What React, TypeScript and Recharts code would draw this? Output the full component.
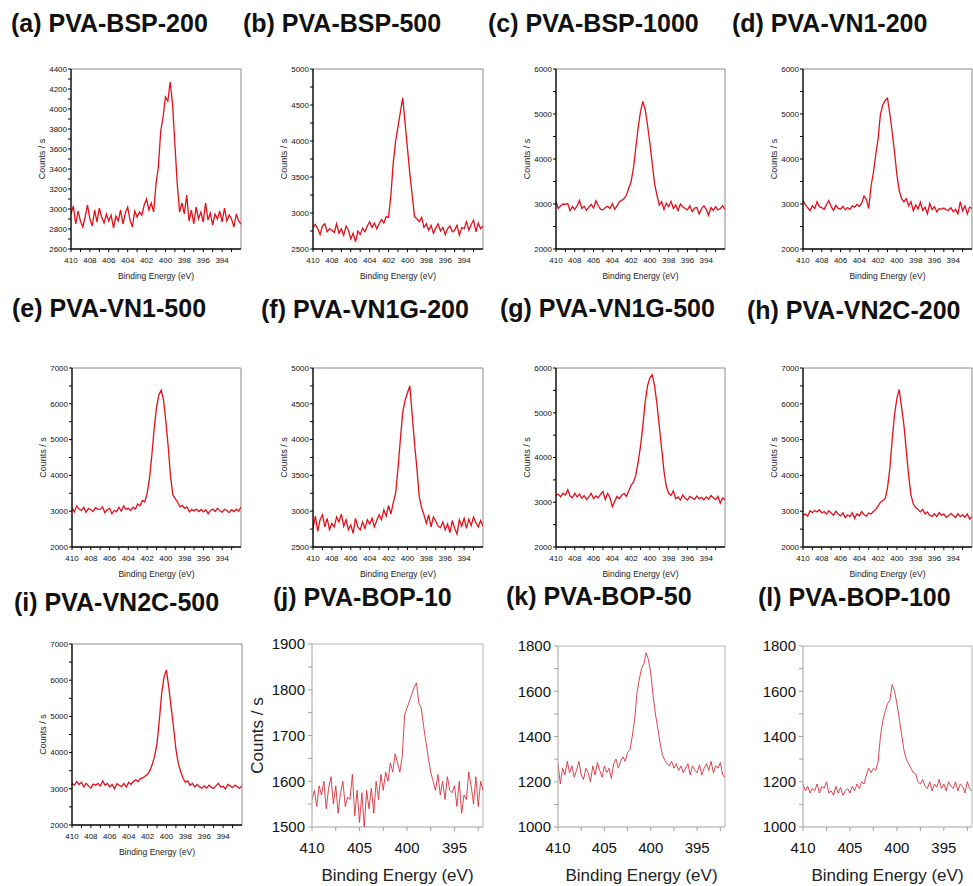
import { LineChart, Line, XAxis, YAxis, ReferenceLine } from 'recharts'

const FONT = 'Arial, "Liberation Sans", Helvetica, sans-serif'

// binding energy grid (eV), 0.25 eV steps
const energies = [
  410, 409.75, 409.5, 409.25,
  409, 408.75, 408.5, 408.25,
  408, 407.75, 407.5, 407.25,
  407, 406.75, 406.5, 406.25,
  406, 405.75, 405.5, 405.25,
  405, 404.75, 404.5, 404.25,
  404, 403.75, 403.5, 403.25,
  403, 402.75, 402.5, 402.25,
  402, 401.75, 401.5, 401.25,
  401, 400.75, 400.5, 400.25,
  400, 399.75, 399.5, 399.25,
  399, 398.75, 398.5, 398.25,
  398, 397.75, 397.5, 397.25,
  397, 396.75, 396.5, 396.25,
  396, 395.75, 395.5, 395.25,
  395, 394.75, 394.5, 394.25,
  394, 393.75, 393.5, 393.25,
  393, 392.75, 392.5, 392.25,
  392,
]

// counts / s, one row per eV
const bsp200 = [
  2950, 3030, 2850, 2980, 2880, 2820, 2920, 3040, 2900, 2830, 2990, 2870,
  3010, 2920, 2860, 2950, 2880, 2940, 2810, 2930, 2880, 2990, 2850, 2960,
  3020, 2890, 2820, 2980, 2920, 2970, 2940, 3040, 3100, 2990, 3060, 2970,
  3250, 3420, 3780, 3920, 4120, 4080, 4270, 4050, 3650, 3250, 2970, 3060,
  2950, 3140, 2880, 2990, 2850, 3020, 2900, 2970, 2870, 3060, 2890, 2960,
  2840, 2950, 2900, 2980, 2870, 3010, 2880, 2940, 2900, 2820, 2950, 2880,
  2850,
]
const bsp500 = [
  2800, 2840, 2780, 2700, 2820, 2850, 2740, 2780, 2760, 2730, 2850, 2720,
  2780, 2690, 2820, 2760, 2640, 2720, 2600, 2750, 2700, 2790, 2740, 2820,
  2880, 2800, 2860, 2780, 2850, 2910, 2860, 2950, 2940, 3250, 3700, 4000,
  4200, 4400, 4600, 4250, 3900, 3550, 3250, 2950, 2920, 2880, 2940, 2800,
  2850, 2760, 2830, 2720, 2790, 2850, 2750, 2800, 2700, 2780, 2820, 2740,
  2760, 2830, 2690, 2800, 2780, 2880, 2760, 2840, 2900, 2740, 2860, 2780,
  2820,
]
const bsp1000 = [
  3050, 2900, 2960, 3000, 2990, 3010, 2850, 2940, 2880, 2960, 3080, 2900,
  2950, 2860, 2930, 2990, 2910, 3070, 2960, 2880, 2870, 2920, 2950, 2900,
  3010, 2880, 2960, 3050, 3080, 3120, 3200, 3350, 3500, 3800, 4250, 4700,
  5050, 5280, 5100, 4750, 4350, 3900, 3450, 3200, 2980, 3050, 2880, 3020,
  2940, 3060, 2900, 2980, 2850, 3000, 2940, 2900, 2870, 2960, 2830, 2910,
  2920, 2780, 2900, 2960, 2880, 2750, 2920, 2860, 2940, 2870, 2900, 2960,
  2880,
]
const vn1_200 = [
  3080, 2980, 2920, 2850, 2960, 2900, 3050, 2940, 2920, 2880, 2990, 3080,
  2940, 2860, 2970, 2900, 2890, 2950, 2870, 2920, 2880, 2960, 2930, 2990,
  2950, 3020, 3180, 3100, 2900, 3400, 3700, 4100, 4450, 5000, 5200, 5300,
  5350, 5000, 4600, 4150, 3650, 3300, 3120, 3050, 3120, 2960, 3050, 2850,
  2980, 2890, 3040, 2860, 2930, 2780, 3010, 2880, 2940, 2830, 2900, 2880,
  2910, 2870, 2860, 2920, 2830, 2880, 2780, 3050, 2850, 2960, 2780, 2930,
  2900,
]
const vn1_500 = [
  3100, 2980, 3150, 3060, 3020, 3110, 2970, 3080, 3040, 2990, 3100, 3060,
  3050, 3120, 2960, 3040, 3080, 2930, 3020, 2990, 3110, 3000, 3150, 3050,
  3080, 3020, 3110, 3060, 3200, 3150, 3300, 3260, 3500, 3900, 4550, 5300,
  5900, 6250, 6380, 6100, 5500, 4800, 3950, 3450, 3350, 3250, 3120, 3160,
  3080, 3120, 2980, 3050, 3010, 3060, 2990, 3050, 2980, 3040, 2930, 3020,
  3060, 2990, 3080, 3010, 2970, 3050, 3020, 2960, 3040, 2990, 3060, 3000,
  3120,
]
const vn1g_200 = [
  2760, 2930, 2720, 2880, 2950, 2780, 2900, 2740, 2830, 2780, 2920, 2850,
  2960, 2790, 2880, 2740, 2810, 2690, 2900, 2780, 2740, 2850, 2760, 2880,
  2820, 2900, 2780, 2870, 2950, 2880, 3020, 2930, 3080, 2960, 3120, 3250,
  3600, 4000, 4380, 4550, 4650, 4750, 4350, 3950, 3600, 3200, 3050, 2950,
  2830, 2950, 2780, 2920, 2860, 2790, 2770, 2850, 2740, 2820, 2700, 2870,
  2760, 2680, 2880, 2790, 2900, 2760, 2890, 2800, 2920, 2840, 2780, 2870,
  2790,
]
const vn1g_500 = [
  3150, 3180, 3120, 3200, 3160, 3280, 3140, 3100, 3200, 3120, 3180, 3090,
  3150, 3060, 3120, 3200, 3080, 3140, 3100, 3180, 3240, 3060, 3200, 3100,
  2900, 3020, 3130, 3080, 3160, 3200, 3130, 3250, 3380, 3450, 3600, 3900,
  4250, 4700, 5250, 5600, 5780, 5850, 5600, 5200, 4700, 4200, 3700, 3350,
  3200, 3150, 3250, 3080, 3120, 3050, 3160, 3090, 3050, 3130, 3100, 3060,
  3140, 3080, 3110, 3050, 3120, 3070, 3150, 3100, 3060, 3130, 2980, 3100,
  3050,
]
const vn2c_200 = [
  2880, 2920, 2860, 3010, 2960, 3020, 2980, 3040, 2950, 2990, 2920, 3010,
  2950, 2890, 3000, 2920, 2870, 2950, 2820, 2900, 2850, 2960, 2800, 2930,
  2870, 2990, 2900, 2860, 2950, 2920, 2990, 3050, 3150, 3250, 3300, 3350,
  3650, 4200, 5000, 5700, 6150, 6400, 5900, 5400, 4700, 4000, 3450, 3200,
  3100, 3050, 2980, 3050, 2920, 2980, 2880, 2860, 2930, 2850, 2960, 2890,
  2920, 2830, 2870, 2940, 2880, 2820, 2930, 2850, 2900, 2830, 2920, 2780,
  2850,
]
const vn2c_500 = [
  3150, 3100, 3200, 3120, 3180, 3050, 3150, 3080, 3020, 3130, 3100, 3150,
  3080, 3220, 3100, 3150, 3050, 3120, 3000, 3140, 3100, 3060, 3150, 3050,
  3180, 3120, 3200, 3250, 3200, 3280, 3300, 3350, 3400, 3500, 3680, 3900,
  4250, 4900, 5650, 6100, 6280, 5800, 5250, 4700, 4100, 3700, 3480, 3300,
  3180, 3220, 3100, 3150, 3050, 3120, 3060, 3010, 3080, 3020, 3100, 3040,
  3010, 3080, 3150, 3050, 3070, 3000, 3120, 3080, 3030, 3100, 3060, 3010,
  3080,
]
const bop10 = [
  1560, 1580, 1545, 1590, 1570, 1600, 1540, 1585, 1610, 1550, 1590, 1530,
  1575, 1600, 1545, 1565, 1560, 1615, 1525, 1580, 1510, 1575, 1500, 1580,
  1540, 1585, 1530, 1600, 1560, 1615, 1580, 1620, 1600, 1640, 1620, 1660,
  1640, 1620, 1655, 1745, 1760, 1775, 1790, 1805, 1815, 1770, 1760, 1720,
  1685, 1650, 1620, 1600, 1580, 1615, 1570, 1600, 1560, 1610, 1580, 1575,
  1590, 1545, 1600, 1530, 1570, 1560, 1620, 1590, 1550, 1610, 1545, 1600,
  1580,
]
const bop50 = [
  1280, 1190, 1260, 1230, 1290, 1240, 1270, 1220, 1250, 1290, 1230, 1210,
  1260, 1240, 1200, 1270, 1230, 1285, 1250, 1220, 1270, 1240, 1260, 1215,
  1280, 1300, 1260, 1290, 1310, 1290, 1330, 1340, 1400, 1470, 1590, 1650,
  1700, 1720, 1770, 1740, 1680, 1580, 1500, 1440, 1370, 1320, 1295, 1280,
  1270, 1290, 1260, 1280, 1250, 1270, 1240, 1260, 1280, 1230, 1270, 1250,
  1240, 1275, 1230, 1260, 1280, 1250, 1290, 1240, 1270, 1260, 1285, 1230,
  1220,
]
const bop100 = [
  1190, 1160, 1180, 1150, 1170, 1160, 1190, 1150, 1180, 1170, 1200, 1150,
  1160, 1140, 1180, 1150, 1175, 1140, 1160, 1170, 1150, 1180, 1160, 1190,
  1170, 1200, 1190, 1230, 1260, 1240, 1260, 1250, 1290, 1400, 1470, 1510,
  1545, 1560, 1630, 1600, 1545, 1480, 1410, 1340, 1300, 1280, 1260, 1240,
  1235, 1200, 1190, 1210, 1180, 1170, 1200, 1160, 1190, 1175, 1210, 1170,
  1190, 1160, 1200, 1180, 1170, 1200, 1160, 1190, 1180, 1150, 1200, 1170,
  1160,
]

const titles = [
  '(a) PVA-BSP-200', '(b) PVA-BSP-500', '(c) PVA-BSP-1000', '(d) PVA-VN1-200',
  '(e) PVA-VN1-500', '(f) PVA-VN1G-200', '(g) PVA-VN1G-500', '(h) PVA-VN2C-200',
  '(i) PVA-VN2C-500', '(j) PVA-BOP-10', '(k) PVA-BOP-50', '(l) PVA-BOP-100',
]

// axis ticks
const xTicksSmall = [410, 409, 408, 407, 406, 405, 404, 403, 402, 401, 400, 399, 398, 397, 396, 395, 394, 393]
const xLabelsSmall = [410, 408, 406, 404, 402, 400, 398, 396, 394]
const xTicksBig = [410, 407.5, 405, 402.5, 400, 397.5, 395, 392.5]
const xLabelsBig = [410, 405, 400, 395]
const yA = [2600, 2800, 3000, 3200, 3400, 3600, 3800, 4000, 4200, 4400]
const yB = [2500, 3000, 3500, 4000, 4500, 5000]
const y2to6 = [2000, 3000, 4000, 5000, 6000]
const y2to7 = [2000, 3000, 4000, 5000, 6000, 7000]
const yJ = [1500, 1600, 1700, 1800, 1900]
const yKL = [1000, 1200, 1400, 1600, 1800]

interface PanelCfg {
  title: string
  values: number[]
  yMajors: number[]
  tx: number
  ty: number
  x: number
  y: number
  w: number
  h: number
  big?: boolean
  yLabel?: boolean
}

const panels: PanelCfg[] = [
  { title: titles[0], values: bsp200, yMajors: yA, tx: 11, ty: 11, x: 71, y: 69, w: 170, h: 180, yLabel: true },
  { title: titles[1], values: bsp500, yMajors: yB, tx: 243, ty: 11, x: 313, y: 69, w: 170, h: 180, yLabel: true },
  { title: titles[2], values: bsp1000, yMajors: y2to6, tx: 488, ty: 11, x: 556, y: 69, w: 169, h: 180, yLabel: true },
  { title: titles[3], values: vn1_200, yMajors: y2to6, tx: 732, ty: 11, x: 803, y: 69, w: 169, h: 180, yLabel: true },
  { title: titles[4], values: vn1_500, yMajors: y2to7, tx: 12, ty: 296, x: 72, y: 368, w: 169, h: 179, yLabel: true },
  { title: titles[5], values: vn1g_200, yMajors: yB, tx: 261, ty: 297, x: 313, y: 368, w: 170, h: 179, yLabel: true },
  { title: titles[6], values: vn1g_500, yMajors: y2to6, tx: 500, ty: 296, x: 556, y: 368, w: 169, h: 179, yLabel: true },
  { title: titles[7], values: vn2c_200, yMajors: y2to7, tx: 747, ty: 298, x: 803, y: 368, w: 169, h: 179, yLabel: true },
  { title: titles[8], values: vn2c_500, yMajors: y2to7, tx: 14, ty: 590, x: 72, y: 644, w: 170, h: 181, yLabel: true },
  { title: titles[9], values: bop10, yMajors: yJ, tx: 273, ty: 585, x: 312, y: 644, w: 171, h: 183, big: true, yLabel: true },
  { title: titles[10], values: bop50, yMajors: yKL, tx: 506, ty: 584, x: 558, y: 646, w: 167, h: 181, big: true },
  { title: titles[11], values: bop100, yMajors: yKL, tx: 758, ty: 585, x: 803, y: 646, w: 169, h: 181, big: true },
]

const withMinors = (majors: number[]) => {
  const out: number[] = []
  majors.forEach((m, i) => {
    out.push(m)
    if (i < majors.length - 1) out.push((m + majors[i + 1]) / 2)
  })
  return out
}

function Panel({ p }: { p: PanelCfg }) {
  const big = !!p.big
  const yw = big ? (p.yLabel ? 110 : 50) : 58
  const xh = big ? 62 : 36
  const T = 12
  const R = 2
  const yMin = p.yMajors[0]
  const yMax = p.yMajors[p.yMajors.length - 1]
  const data = energies.map((e, i) => ({ e, v: p.values[i] }))
  const tickFont = big ? 15 : 8
  const labelFont = big ? 17 : 8.5
  const axisColor = big ? '#a0a0a0' : '#000'
  const frameColor = big ? '#b4b4b4' : '#8a8a8a'
  const xTicks = big ? xTicksBig : xTicksSmall
  const xLabels = big ? xLabelsBig : xLabelsSmall

  return (
    <>
      <div
        style={{
          position: 'absolute', left: p.tx, top: p.ty, fontFamily: FONT, fontWeight: 'bold',
          fontSize: 25, lineHeight: '25px', whiteSpace: 'nowrap', color: '#111',
        }}
      >
        {p.title}
      </div>
      <div style={{ position: 'absolute', left: p.x - yw, top: p.y - T }}>
        <LineChart
          width={yw + p.w + R}
          height={T + p.h + xh}
          data={data}
          margin={{ top: T, right: R, bottom: 0, left: 0 }}
        >
          <XAxis
            dataKey="e"
            type="number"
            domain={[392, 410]}
            reversed
            allowDataOverflow
            ticks={xTicks}
            interval={0}
            tickFormatter={(v: number) => (xLabels.includes(v) ? String(v) : '')}
            height={xh}
            tickSize={big ? 4 : 3}
            tickMargin={big ? 11 : 5}
            tick={{ fontSize: tickFont, fill: '#111', fontFamily: FONT }}
            axisLine={{ stroke: axisColor, strokeWidth: big ? 1 : 1.4 }}
            tickLine={{ stroke: axisColor }}
            label={{
              value: 'Binding Energy (eV)',
              position: 'insideTop',
              offset: big ? 42 : 24,
              fontSize: labelFont,
              fontFamily: FONT,
              fill: '#222',
            }}
          />
          <YAxis
            type="number"
            domain={[yMin, yMax]}
            allowDataOverflow
            ticks={withMinors(p.yMajors)}
            interval={0}
            tickFormatter={(v: number) => (p.yMajors.includes(v) ? String(v) : '')}
            width={yw}
            tickSize={big ? 4 : 3}
            tickMargin={big ? 3 : 1}
            tick={{ fontSize: tickFont, fill: '#111', fontFamily: FONT }}
            axisLine={{ stroke: axisColor, strokeWidth: big ? 1 : 1.4 }}
            tickLine={{ stroke: axisColor }}
            label={
              p.yLabel
                ? {
                    value: 'Counts / s',
                    angle: -90,
                    position: 'center',
                    fontSize: big ? 17 : 9,
                    fontFamily: FONT,
                    fill: '#222',
                  }
                : undefined
            }
          />
          <ReferenceLine y={yMax} stroke={frameColor} strokeWidth={1} />
          <ReferenceLine x={392} stroke={frameColor} strokeWidth={1} />
          <Line
            dataKey="v"
            type="linear"
            stroke={big ? '#d8303c' : '#e3101a'}
            strokeWidth={big ? 0.9 : 1.3}
            dot={false}
            isAnimationActive={false}
          />
        </LineChart>
      </div>
    </>
  )
}

export default function App() {
  return (
    <div
      style={{
        position: 'absolute', left: 0, top: 0, width: 973, height: 886,
        overflow: 'hidden', background: '#fff',
      }}
    >
      {panels.map(p => (
        <Panel key={p.title} p={p} />
      ))}
    </div>
  )
}
